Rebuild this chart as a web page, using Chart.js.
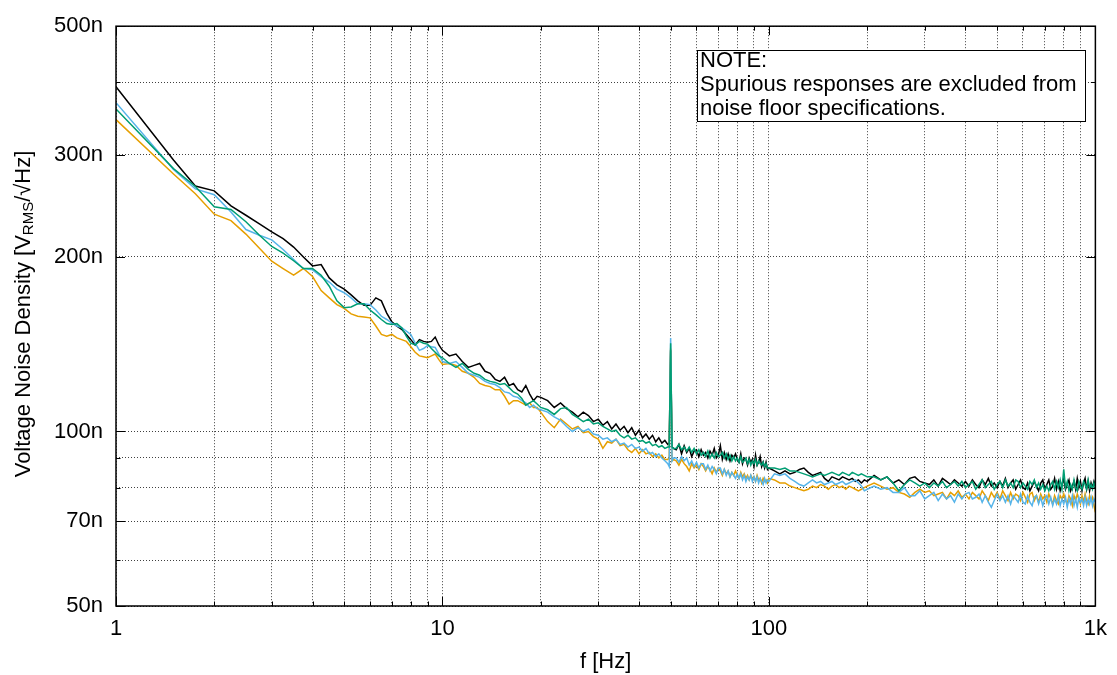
<!DOCTYPE html>
<html><head><meta charset="utf-8">
<script src="https://cdn.jsdelivr.net/npm/chart.js@4"></script>
<style>html,body{margin:0;padding:0;background:#fff;}#wrap{width:1117px;height:675px;}</style>
</head><body><div id="wrap"><canvas id="c" width="1117" height="675"></canvas></div>
<script>
// ---------- DATA ----------
const freqHz = [
  1, 1.5, 1.75, 2, 2.25, 2.5, 2.75, 3, 3.25, 3.5, 3.75, 4, 4.25, 4.5, 4.75, 5, 5.25, 5.5, 5.75, 6,
  6.25, 6.5, 6.75, 7, 7.25, 7.5, 7.75, 8, 8.25, 8.5, 8.75, 9, 9.25, 9.5, 9.75, 10,
  10.5, 11, 11.5, 12, 12.5, 13, 13.5, 14, 14.5, 15, 15.5, 16, 16.5, 17, 17.5, 18, 18.5, 19, 19.5, 20,
  21, 22, 23, 24, 25, 26, 27, 28, 29, 30, 31, 32, 33, 34, 35, 36, 37, 38, 39, 40, 41, 42, 43, 44, 45, 46, 47, 48,
  49, 49.5, 50, 50.5, 51,
  52, 53, 54, 55, 56, 57, 58, 59, 60, 61, 62, 63, 64, 65, 66, 67, 68, 69, 70, 71, 72, 73, 74, 75, 76,
  77, 78, 79, 80, 81, 82, 83, 84, 85, 86, 87, 88, 89, 90, 91, 92, 93, 94, 95, 96, 97, 98, 99, 100,
  104, 108, 112, 116, 120, 124, 128, 132, 136, 140, 144, 148, 152, 156, 160, 164, 168, 172, 176, 180, 184, 188, 192, 196, 200,
  210, 220, 230, 240, 250, 260, 270, 280, 290, 300, 310, 320, 330, 340, 350, 360, 370, 380, 390, 400,
  410, 420, 430, 440, 450, 460, 470, 480, 490, 500, 510, 520, 530, 540, 550, 560, 570, 580, 590, 600,
  610, 620, 630, 640, 650, 660, 670, 680, 690, 700, 710, 720, 730, 740, 750, 760, 770, 780, 790, 800,
  810, 820, 830, 840, 850, 860, 870, 880, 890, 900, 910, 920, 930, 940, 950, 960, 970, 980, 990, 1000
];

// values in nV/sqrt(Hz)
const noiseBlack = [
  393, 294, 265, 260, 245, 236, 228, 221, 215, 208, 200, 193, 194, 184, 179, 176, 172, 168, 165, 165,
  170, 168, 160, 154.5, 152, 150, 147, 144, 141, 144, 143, 142.5, 143, 145.5, 141, 138,
  135, 136, 132, 129, 130, 131, 127, 126, 123, 122, 124, 120, 121, 118, 117, 120, 116, 113, 115, 114.5,
  113, 110, 112, 109.5, 108, 106, 108, 106.5, 104, 105, 102.5, 104, 101, 103, 100.5, 102, 99.5, 101.5, 98.5, 100.5, 97.5, 99, 97, 98.5, 96, 97.5, 95.5, 96.5,
  95, 95.5, 138, 94, 93.5,
  93, 95, 91.5, 94.5, 92, 93.5, 90.5, 92.5, 93, 90.5, 93, 91, 92, 90, 92.5, 91, 93.5, 90, 91, 94.5, 89.5, 92, 89.5, 91.5, 89,
  91, 90, 91.5, 89.5, 88.5, 91.5, 88, 90, 89.5, 87.5, 90, 88.5, 89.5, 87, 91, 87.5, 88.5, 90.5, 87, 88.5, 86.5, 88.5, 86, 86.5,
  85.5, 84.5, 85.5, 84.5, 85, 86, 86.5, 85, 84, 84.5, 85, 83, 82, 83.5, 83, 82.5, 83.5, 83, 82.5, 83, 82, 82.5, 81.5, 82.5, 82,
  84, 82.5, 83.5, 81.5, 82.5, 81, 83, 83.5, 82, 81.5, 81, 82.5, 80.5, 83, 82, 81, 82.5, 81.5, 80.5, 82,
  80.5, 82.5, 81, 80, 82.5, 81, 83, 80.5, 81.5, 80, 82, 80.5, 83, 80, 81.5, 82.5, 79.5, 81, 82.5, 80,
  79.5, 81.5, 79, 80.5, 82, 80.5, 79, 81.5, 82.5, 79.5, 81, 82.5, 79.5, 80.5, 83, 79.5, 82, 79, 81, 83,
  79.5, 81, 82.5, 79, 80.5, 82, 79.5, 83, 80, 82, 79, 81.5, 83, 79.5, 82, 79, 81.5, 80, 82, 80.5
];

const noiseOrange = [
  345, 278, 257, 237, 231, 219, 207, 196.6, 191, 186, 191, 185, 175, 170, 165.5, 163, 159.5, 158, 157.5, 157,
  152, 147, 146, 147, 145, 144, 143, 140, 137, 135, 134.5, 134, 135, 136, 133, 130.5,
  131, 130, 127, 126, 124, 121, 120, 119.5, 118, 118, 115, 111.5, 113, 113, 112, 111, 112, 110, 110, 108,
  104, 101.5, 105, 103, 101, 102, 99.5, 100, 98, 97, 93.5, 96, 95.5, 97, 94.5, 95, 93, 92, 93.5, 91.5, 93, 91.5, 92, 90.5, 91.5, 90, 91, 89.5,
  89.5, 90, 139, 89, 89.5,
  89, 87.5, 89.5, 88, 87, 85.5, 88, 86.5, 87.5, 86, 88, 87, 85.5, 87, 86, 84.5, 86.5, 85, 86.5, 85.5, 84, 86, 84.5, 85.5, 83.5,
  85, 84, 85.5, 84, 83, 85, 83.5, 84.5, 83, 84, 82.5, 84, 83, 83.5, 82, 84, 82.5, 83, 81.5, 83, 82, 82.5, 81.5, 83,
  82.5, 81.5, 81.5, 80.5, 80, 79.5, 79, 79.5, 80.5, 80, 81, 80.5, 79.5, 80.5, 81, 80, 80.5, 79.5, 80.5, 80, 79.5, 79, 79.5, 80, 80.5,
  81.5, 80.5, 79.5, 80, 78.5, 78, 77, 78.5, 79.5, 78.5, 79, 77.5, 78, 78.5, 76.5, 78.5, 77.5, 79, 77, 78,
  76.5, 78.5, 77.5, 76.5, 79, 77.5, 76, 78.5, 77, 78.5, 76.5, 79, 77.5, 76, 78.5, 76.5, 78, 77.5, 76, 78.5,
  77, 75.5, 78, 78.5, 76, 77.5, 75.5, 78, 76.5, 77.5, 75.5, 78, 76.5, 75, 77.5, 76, 75, 77.5, 76.5, 78,
  76, 75, 77.5, 76.5, 74.5, 77.5, 76, 78, 76.5, 75, 77.5, 75.5, 78, 76, 75, 77.5, 76, 77, 74.5, 72.5
];

const noiseBlue = [
  369, 283, 262, 256, 239, 223, 218, 214, 206, 198, 191, 190, 185, 181, 176, 173.5, 170, 166, 166, 165.5,
  162, 158, 156, 153.8, 152, 151, 149, 147, 142, 138, 139, 140.6, 140, 139.6, 136, 132,
  131, 132, 129, 126, 125, 124, 122, 121, 120.5, 119, 117, 116.5, 115, 114.5, 113, 112, 110, 111, 109.5, 109,
  108, 106, 104.5, 102, 100, 101.5, 100, 101, 99, 98.5, 97, 97.5, 96, 97, 95, 95.5, 94, 95, 93.5, 94, 92.5, 93.5, 91.5, 92, 90.5, 91.5, 90, 89,
  88, 87, 145, 89, 90,
  90, 88.5, 90.5, 89, 90, 87.5, 89, 87, 88.5, 86.5, 88, 88, 86, 87.5, 85.5, 87, 86, 84.5, 86.5, 86.5, 84.5, 86, 84, 85.5, 83.5,
  85, 84, 83, 84.5, 83, 84.5, 82.5, 84, 82, 83.5, 82.5, 84, 82, 83.5, 82, 83.5, 81.5, 83, 82, 81, 83, 81.5, 82.5, 82,
  84.5, 84, 84.5, 83, 82, 81, 80.5, 81.5, 82.5, 81.5, 82, 81, 81.5, 82, 81, 81.5, 82, 81, 81.5, 82, 82.5, 81.5, 80.5, 79, 79.5,
  80.5, 79.5, 80, 78.5, 78.5, 80, 77.5, 77.5, 79, 76.5, 77.5, 78.5, 76, 78, 76.5, 77.5, 75.5, 78, 76.5, 78,
  78.5, 76.5, 77, 78, 75.5, 77.5, 75.5, 74, 76, 78, 76, 77.5, 75.5, 77.5, 75, 77.5, 76.5, 75.5, 78, 75.5,
  75, 77.5, 75.5, 74.5, 77, 77.5, 75, 77, 74.5, 76.5, 77.5, 75, 77, 74.5, 76.5, 75, 77.5, 74.5, 76.5, 75,
  77, 74, 76.5, 75, 77.5, 74.5, 76.5, 74, 77, 75.5, 76.5, 74.5, 77, 74.5, 76.5, 75, 77, 74.5, 76.5, 75.5
];

const noiseGreen = [
  360, 284, 264.5, 244, 241.5, 230, 218, 208.5, 203, 197, 191, 191, 186, 178, 168, 163.5, 164, 166, 166, 162,
  159, 156, 153.5, 153, 153.5, 151, 146, 142, 141, 143, 142, 141.5, 139, 137, 135, 134,
  131, 129, 131, 128, 126, 125, 123, 122, 121.5, 120.5, 121, 119, 117, 116, 114, 111, 112, 113, 111.5, 110,
  109, 107, 109.5, 110, 107, 105.5, 104, 105, 103, 103.5, 102, 101, 100, 100.5, 98.5, 97.5, 98.5, 97, 97.5, 96, 96.5, 95.5, 96, 94.5, 95, 94, 94.5, 93.5,
  94, 94, 142, 94, 93.5,
  93.5, 95, 93, 94, 92.5, 94, 92, 93.5, 91.5, 93, 91, 92, 90.5, 92.5, 90, 91.5, 90, 92, 90.5, 91, 92, 90, 91.5, 89.5, 91,
  89, 90.5, 89, 90, 88.5, 90.5, 88.5, 89, 90, 88, 89.5, 87.5, 89, 88, 89.5, 87.5, 89, 88, 87.5, 88.5, 87, 88, 86.5, 86.5,
  86.5, 86, 86.5, 85.5, 85.5, 85, 84.5, 84, 83.5, 84, 84.5, 84, 84.5, 85, 84.5, 84, 85, 84.5, 84, 85, 84.5, 84, 84.5, 84, 83.5,
  83.5, 82.5, 83.5, 81.5, 79, 81, 82.5, 81.5, 80.5, 81.5, 80, 81.5, 80.5, 82, 80, 81, 82, 80.5, 82, 80,
  81, 82, 79.5, 81, 82.5, 80, 81, 82, 79.5, 81, 82, 80, 82.5, 80.5, 81.5, 80, 82.5, 82, 80, 81.5,
  80.5, 79.5, 82, 81, 82.5, 80, 81.5, 79.5, 81, 79, 80.5, 79, 81, 82, 79.5, 82, 80, 82.5, 79.5, 86,
  80, 82, 79, 81, 79.5, 82.5, 80, 79, 82, 80.5, 79.5, 82, 81, 79.5, 82.5, 80, 81, 79.5, 81.5, 80
];

const yTickValues = [50, 60, 70, 80, 90, 100, 200, 300, 400, 500];
const yTickLabels = { 50: '50n', 70: '70n', 100: '100n', 200: '200n', 300: '300n', 500: '500n' };
const xTickValues = [1, 2, 3, 4, 5, 6, 7, 8, 9, 10, 20, 30, 40, 50, 60, 70, 80, 90, 100,
                     200, 300, 400, 500, 600, 700, 800, 900, 1000];
const xTickLabels = { 1: '1', 10: '10', 100: '100', 1000: '1k' };
const xTitle = 'f [Hz]';
const yTitleParts = ['Voltage Noise Density [V', 'RMS', '/\u221AHz]'];
const noteLines = ['NOTE:', 'Spurious responses are excluded from', 'noise floor specifications.'];

// ---------- CHART ----------
const FONT = "'Liberation Sans', Arial, Helvetica, sans-serif";
const FS = 22;
Chart.defaults.font.family = FONT;
Chart.defaults.font.size = FS;
Chart.defaults.color = '#000';

function series(label, arr, color) {
  return {
    label, borderColor: color, backgroundColor: color, borderWidth: 1.5,
    pointRadius: 0, tension: 0, fill: false,
    data: freqHz.map((f, i) => ({ x: f, y: arr[i] }))
  };
}

const bgPlugin = {
  id: 'bg',
  beforeDraw(chart) {
    const c = chart.ctx; c.save(); c.fillStyle = '#fff';
    c.fillRect(0, 0, chart.width, chart.height); c.restore();
  }
};

const framePlugin = {
  id: 'frame',
  afterDraw(chart) {
    const c = chart.ctx, a = chart.chartArea;
    const xs = chart.scales.x, ys = chart.scales.y;
    c.save();
    c.strokeStyle = '#000';
    c.lineWidth = 1;
    // inward ticks
    c.beginPath();
    xTickValues.forEach(v => {
      const px = Math.round(xs.getPixelForValue(v)) + 0.5;
      const len = xTickLabels[v] !== undefined ? 9 : 4.5;
      c.moveTo(px, a.bottom); c.lineTo(px, a.bottom - len);
      c.moveTo(px, a.top); c.lineTo(px, a.top + len);
    });
    yTickValues.forEach(v => {
      const py = Math.round(ys.getPixelForValue(v)) + 0.5;
      const len = yTickLabels[v] !== undefined ? 9 : 4.5;
      c.moveTo(a.left, py); c.lineTo(a.left + len, py);
      c.moveTo(a.right, py); c.lineTo(a.right - len, py);
    });
    c.stroke();
    // frame
    c.lineWidth = 1.5;
    c.strokeRect(a.left, a.top, a.right - a.left, a.bottom - a.top);

    // note box
    c.fillStyle = '#fff';
    c.fillRect(697.5, 50.5, 388, 71);
    c.lineWidth = 1;
    c.strokeRect(697.5, 50.5, 388, 71);
    c.fillStyle = '#000';
    c.font = FS + 'px ' + FONT;
    c.textAlign = 'left';
    c.textBaseline = 'alphabetic';
    const baselines = [67, 91, 114.5];
    noteLines.forEach((t, i) => c.fillText(t, 700, baselines[i]));

    // y title with subscript
    c.translate(23.5, 314);
    c.rotate(-Math.PI / 2);
    c.textBaseline = 'middle';
    const fMain = FS + 'px ' + FONT, fSub = '15px ' + FONT;
    c.font = fMain; const w0 = c.measureText(yTitleParts[0]).width;
    c.font = fSub; const w1 = c.measureText(yTitleParts[1]).width;
    c.font = fMain; const w2 = c.measureText(yTitleParts[2]).width;
    let x = -(w0 + w1 + w2) / 2;
    c.font = fMain; c.fillText(yTitleParts[0], x, 0); x += w0;
    c.font = fSub; c.fillText(yTitleParts[1], x, 5); x += w1;
    c.font = fMain; c.fillText(yTitleParts[2], x, 0);
    c.restore();
  }
};

new Chart(document.getElementById('c'), {
  type: 'line',
  data: {
    datasets: [
      series('D', noiseGreen, '#009E73'),
      series('C', noiseBlue, '#56B4E9'),
      series('B', noiseOrange, '#E69F00'),
      series('A', noiseBlack, '#000000')
    ]
  },
  options: {
    responsive: false,
    animation: false,
    devicePixelRatio: 1,
    layout: { padding: { left: 0, right: 17, top: 24, bottom: 0 } },
    plugins: { legend: { display: false }, tooltip: { enabled: false } },
    scales: {
      x: {
        type: 'logarithmic', min: 1, max: 1000,
        afterBuildTicks: s => { s.ticks = xTickValues.map(v => ({ value: v })); },
        afterFit: s => { s.height = 69; },
        ticks: {
          autoSkip: false, maxRotation: 0, padding: 10,
          callback: v => xTickLabels[v] !== undefined ? xTickLabels[v] : ''
        },
        grid: { color: 'rgba(0,0,0,0.75)', lineWidth: 1, drawTicks: false },
        border: { display: false, dash: [1, 2] },
        title: { display: true, text: xTitle, padding: { top: 0, bottom: 0 } }
      },
      y: {
        type: 'logarithmic', min: 50, max: 500,
        afterBuildTicks: s => { s.ticks = yTickValues.map(v => ({ value: v })); },
        afterFit: s => { s.width = 116; },
        ticks: {
          autoSkip: false, padding: 13,
          callback: v => yTickLabels[v] !== undefined ? yTickLabels[v] : ''
        },
        grid: { color: 'rgba(0,0,0,0.75)', lineWidth: 1, drawTicks: false },
        border: { display: false, dash: [1, 2] }
      }
    }
  },
  plugins: [bgPlugin, framePlugin]
});
</script>
</body></html>
